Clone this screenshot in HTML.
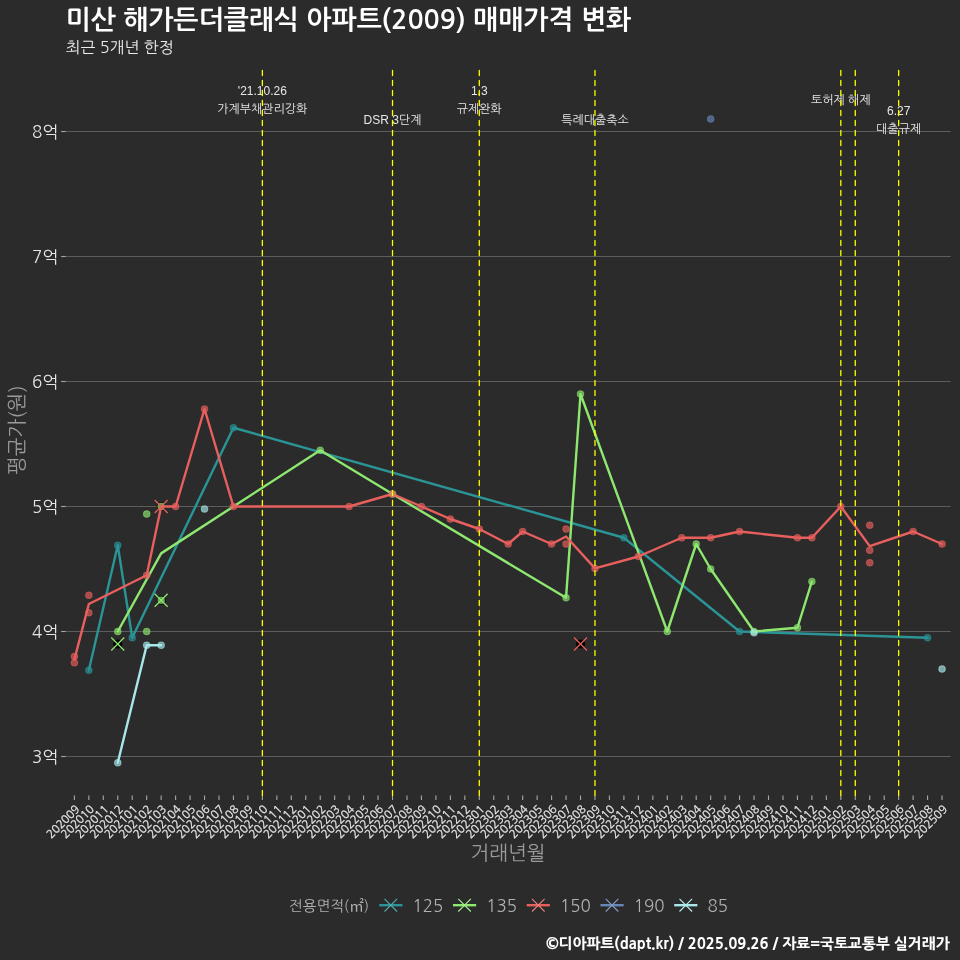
<!DOCTYPE html>
<html><head><meta charset="utf-8"><title>미산 해가든더클래식 아파트(2009) 매매가격 변화</title>
<style>
html,body{margin:0;padding:0;background:#2b2b2b;}
svg{display:block;will-change:transform;}
text{font-family:NanumGothic,'Noto Sans CJK KR',sans-serif;}
.ann{font-family:'Liberation Sans',NanumGothic,'Noto Sans CJK KR',sans-serif;font-size:12px;fill:#e6e6e6;text-anchor:middle;}
</style></head><body>
<svg width="960" height="960" viewBox="0 0 960 960">

<text x="65.6" y="28.6" font-size="26.7" font-weight="700" fill="#ffffff">미산 해가든더클래식 아파트(2009) 매매가격 변화</text>
<text x="66" y="53" font-size="15.8" fill="#ececec">최근 5개년 한정</text>
<line x1="65.7" y1="756.50" x2="950.7" y2="756.50" stroke="#5d5d5d" stroke-width="1.1"/>
<line x1="61.2" y1="756.50" x2="65.7" y2="756.50" stroke="#a8a8a8" stroke-width="1.1"/>
<text x="58.2" y="762.80" font-size="17" fill="#e6e6e6" text-anchor="end">3억</text>
<line x1="65.7" y1="631.50" x2="950.7" y2="631.50" stroke="#5d5d5d" stroke-width="1.1"/>
<line x1="61.2" y1="631.50" x2="65.7" y2="631.50" stroke="#a8a8a8" stroke-width="1.1"/>
<text x="58.2" y="637.80" font-size="17" fill="#e6e6e6" text-anchor="end">4억</text>
<line x1="65.7" y1="506.50" x2="950.7" y2="506.50" stroke="#5d5d5d" stroke-width="1.1"/>
<line x1="61.2" y1="506.50" x2="65.7" y2="506.50" stroke="#a8a8a8" stroke-width="1.1"/>
<text x="58.2" y="512.80" font-size="17" fill="#e6e6e6" text-anchor="end">5억</text>
<line x1="65.7" y1="381.50" x2="950.7" y2="381.50" stroke="#5d5d5d" stroke-width="1.1"/>
<line x1="61.2" y1="381.50" x2="65.7" y2="381.50" stroke="#a8a8a8" stroke-width="1.1"/>
<text x="58.2" y="387.80" font-size="17" fill="#e6e6e6" text-anchor="end">6억</text>
<line x1="65.7" y1="256.50" x2="950.7" y2="256.50" stroke="#5d5d5d" stroke-width="1.1"/>
<line x1="61.2" y1="256.50" x2="65.7" y2="256.50" stroke="#a8a8a8" stroke-width="1.1"/>
<text x="58.2" y="262.80" font-size="17" fill="#e6e6e6" text-anchor="end">7억</text>
<line x1="65.7" y1="131.50" x2="950.7" y2="131.50" stroke="#5d5d5d" stroke-width="1.1"/>
<line x1="61.2" y1="131.50" x2="65.7" y2="131.50" stroke="#a8a8a8" stroke-width="1.1"/>
<text x="58.2" y="137.80" font-size="17" fill="#e6e6e6" text-anchor="end">8억</text>
<line x1="74.38" y1="795.5" x2="74.38" y2="800" stroke="#a8a8a8" stroke-width="1.1"/>
<line x1="88.84" y1="795.5" x2="88.84" y2="800" stroke="#a8a8a8" stroke-width="1.1"/>
<line x1="103.30" y1="795.5" x2="103.30" y2="800" stroke="#a8a8a8" stroke-width="1.1"/>
<line x1="117.76" y1="795.5" x2="117.76" y2="800" stroke="#a8a8a8" stroke-width="1.1"/>
<line x1="132.22" y1="795.5" x2="132.22" y2="800" stroke="#a8a8a8" stroke-width="1.1"/>
<line x1="146.69" y1="795.5" x2="146.69" y2="800" stroke="#a8a8a8" stroke-width="1.1"/>
<line x1="161.15" y1="795.5" x2="161.15" y2="800" stroke="#a8a8a8" stroke-width="1.1"/>
<line x1="175.61" y1="795.5" x2="175.61" y2="800" stroke="#a8a8a8" stroke-width="1.1"/>
<line x1="190.07" y1="795.5" x2="190.07" y2="800" stroke="#a8a8a8" stroke-width="1.1"/>
<line x1="204.53" y1="795.5" x2="204.53" y2="800" stroke="#a8a8a8" stroke-width="1.1"/>
<line x1="218.99" y1="795.5" x2="218.99" y2="800" stroke="#a8a8a8" stroke-width="1.1"/>
<line x1="233.45" y1="795.5" x2="233.45" y2="800" stroke="#a8a8a8" stroke-width="1.1"/>
<line x1="247.91" y1="795.5" x2="247.91" y2="800" stroke="#a8a8a8" stroke-width="1.1"/>
<line x1="262.37" y1="795.5" x2="262.37" y2="800" stroke="#a8a8a8" stroke-width="1.1"/>
<line x1="276.83" y1="795.5" x2="276.83" y2="800" stroke="#a8a8a8" stroke-width="1.1"/>
<line x1="291.29" y1="795.5" x2="291.29" y2="800" stroke="#a8a8a8" stroke-width="1.1"/>
<line x1="305.76" y1="795.5" x2="305.76" y2="800" stroke="#a8a8a8" stroke-width="1.1"/>
<line x1="320.22" y1="795.5" x2="320.22" y2="800" stroke="#a8a8a8" stroke-width="1.1"/>
<line x1="334.68" y1="795.5" x2="334.68" y2="800" stroke="#a8a8a8" stroke-width="1.1"/>
<line x1="349.14" y1="795.5" x2="349.14" y2="800" stroke="#a8a8a8" stroke-width="1.1"/>
<line x1="363.60" y1="795.5" x2="363.60" y2="800" stroke="#a8a8a8" stroke-width="1.1"/>
<line x1="378.06" y1="795.5" x2="378.06" y2="800" stroke="#a8a8a8" stroke-width="1.1"/>
<line x1="392.52" y1="795.5" x2="392.52" y2="800" stroke="#a8a8a8" stroke-width="1.1"/>
<line x1="406.98" y1="795.5" x2="406.98" y2="800" stroke="#a8a8a8" stroke-width="1.1"/>
<line x1="421.44" y1="795.5" x2="421.44" y2="800" stroke="#a8a8a8" stroke-width="1.1"/>
<line x1="435.91" y1="795.5" x2="435.91" y2="800" stroke="#a8a8a8" stroke-width="1.1"/>
<line x1="450.37" y1="795.5" x2="450.37" y2="800" stroke="#a8a8a8" stroke-width="1.1"/>
<line x1="464.83" y1="795.5" x2="464.83" y2="800" stroke="#a8a8a8" stroke-width="1.1"/>
<line x1="479.29" y1="795.5" x2="479.29" y2="800" stroke="#a8a8a8" stroke-width="1.1"/>
<line x1="493.75" y1="795.5" x2="493.75" y2="800" stroke="#a8a8a8" stroke-width="1.1"/>
<line x1="508.21" y1="795.5" x2="508.21" y2="800" stroke="#a8a8a8" stroke-width="1.1"/>
<line x1="522.67" y1="795.5" x2="522.67" y2="800" stroke="#a8a8a8" stroke-width="1.1"/>
<line x1="537.13" y1="795.5" x2="537.13" y2="800" stroke="#a8a8a8" stroke-width="1.1"/>
<line x1="551.59" y1="795.5" x2="551.59" y2="800" stroke="#a8a8a8" stroke-width="1.1"/>
<line x1="566.05" y1="795.5" x2="566.05" y2="800" stroke="#a8a8a8" stroke-width="1.1"/>
<line x1="580.51" y1="795.5" x2="580.51" y2="800" stroke="#a8a8a8" stroke-width="1.1"/>
<line x1="594.98" y1="795.5" x2="594.98" y2="800" stroke="#a8a8a8" stroke-width="1.1"/>
<line x1="609.44" y1="795.5" x2="609.44" y2="800" stroke="#a8a8a8" stroke-width="1.1"/>
<line x1="623.90" y1="795.5" x2="623.90" y2="800" stroke="#a8a8a8" stroke-width="1.1"/>
<line x1="638.36" y1="795.5" x2="638.36" y2="800" stroke="#a8a8a8" stroke-width="1.1"/>
<line x1="652.82" y1="795.5" x2="652.82" y2="800" stroke="#a8a8a8" stroke-width="1.1"/>
<line x1="667.28" y1="795.5" x2="667.28" y2="800" stroke="#a8a8a8" stroke-width="1.1"/>
<line x1="681.74" y1="795.5" x2="681.74" y2="800" stroke="#a8a8a8" stroke-width="1.1"/>
<line x1="696.20" y1="795.5" x2="696.20" y2="800" stroke="#a8a8a8" stroke-width="1.1"/>
<line x1="710.66" y1="795.5" x2="710.66" y2="800" stroke="#a8a8a8" stroke-width="1.1"/>
<line x1="725.12" y1="795.5" x2="725.12" y2="800" stroke="#a8a8a8" stroke-width="1.1"/>
<line x1="739.59" y1="795.5" x2="739.59" y2="800" stroke="#a8a8a8" stroke-width="1.1"/>
<line x1="754.05" y1="795.5" x2="754.05" y2="800" stroke="#a8a8a8" stroke-width="1.1"/>
<line x1="768.51" y1="795.5" x2="768.51" y2="800" stroke="#a8a8a8" stroke-width="1.1"/>
<line x1="782.97" y1="795.5" x2="782.97" y2="800" stroke="#a8a8a8" stroke-width="1.1"/>
<line x1="797.43" y1="795.5" x2="797.43" y2="800" stroke="#a8a8a8" stroke-width="1.1"/>
<line x1="811.89" y1="795.5" x2="811.89" y2="800" stroke="#a8a8a8" stroke-width="1.1"/>
<line x1="826.35" y1="795.5" x2="826.35" y2="800" stroke="#a8a8a8" stroke-width="1.1"/>
<line x1="840.81" y1="795.5" x2="840.81" y2="800" stroke="#a8a8a8" stroke-width="1.1"/>
<line x1="855.27" y1="795.5" x2="855.27" y2="800" stroke="#a8a8a8" stroke-width="1.1"/>
<line x1="869.74" y1="795.5" x2="869.74" y2="800" stroke="#a8a8a8" stroke-width="1.1"/>
<line x1="884.20" y1="795.5" x2="884.20" y2="800" stroke="#a8a8a8" stroke-width="1.1"/>
<line x1="898.66" y1="795.5" x2="898.66" y2="800" stroke="#a8a8a8" stroke-width="1.1"/>
<line x1="913.12" y1="795.5" x2="913.12" y2="800" stroke="#a8a8a8" stroke-width="1.1"/>
<line x1="927.58" y1="795.5" x2="927.58" y2="800" stroke="#a8a8a8" stroke-width="1.1"/>
<line x1="942.04" y1="795.5" x2="942.04" y2="800" stroke="#a8a8a8" stroke-width="1.1"/>
<text transform="translate(80.38,810) rotate(-45)" font-size="11.3" fill="#e8e8e8" stroke="#e8e8e8" stroke-width="0.25" text-anchor="end">202009</text>
<text transform="translate(94.84,810) rotate(-45)" font-size="11.3" fill="#e8e8e8" stroke="#e8e8e8" stroke-width="0.25" text-anchor="end">202010</text>
<text transform="translate(109.30,810) rotate(-45)" font-size="11.3" fill="#e8e8e8" stroke="#e8e8e8" stroke-width="0.25" text-anchor="end">202011</text>
<text transform="translate(123.76,810) rotate(-45)" font-size="11.3" fill="#e8e8e8" stroke="#e8e8e8" stroke-width="0.25" text-anchor="end">202012</text>
<text transform="translate(138.22,810) rotate(-45)" font-size="11.3" fill="#e8e8e8" stroke="#e8e8e8" stroke-width="0.25" text-anchor="end">202101</text>
<text transform="translate(152.69,810) rotate(-45)" font-size="11.3" fill="#e8e8e8" stroke="#e8e8e8" stroke-width="0.25" text-anchor="end">202102</text>
<text transform="translate(167.15,810) rotate(-45)" font-size="11.3" fill="#e8e8e8" stroke="#e8e8e8" stroke-width="0.25" text-anchor="end">202103</text>
<text transform="translate(181.61,810) rotate(-45)" font-size="11.3" fill="#e8e8e8" stroke="#e8e8e8" stroke-width="0.25" text-anchor="end">202104</text>
<text transform="translate(196.07,810) rotate(-45)" font-size="11.3" fill="#e8e8e8" stroke="#e8e8e8" stroke-width="0.25" text-anchor="end">202105</text>
<text transform="translate(210.53,810) rotate(-45)" font-size="11.3" fill="#e8e8e8" stroke="#e8e8e8" stroke-width="0.25" text-anchor="end">202106</text>
<text transform="translate(224.99,810) rotate(-45)" font-size="11.3" fill="#e8e8e8" stroke="#e8e8e8" stroke-width="0.25" text-anchor="end">202107</text>
<text transform="translate(239.45,810) rotate(-45)" font-size="11.3" fill="#e8e8e8" stroke="#e8e8e8" stroke-width="0.25" text-anchor="end">202108</text>
<text transform="translate(253.91,810) rotate(-45)" font-size="11.3" fill="#e8e8e8" stroke="#e8e8e8" stroke-width="0.25" text-anchor="end">202109</text>
<text transform="translate(268.37,810) rotate(-45)" font-size="11.3" fill="#e8e8e8" stroke="#e8e8e8" stroke-width="0.25" text-anchor="end">202110</text>
<text transform="translate(282.83,810) rotate(-45)" font-size="11.3" fill="#e8e8e8" stroke="#e8e8e8" stroke-width="0.25" text-anchor="end">202111</text>
<text transform="translate(297.29,810) rotate(-45)" font-size="11.3" fill="#e8e8e8" stroke="#e8e8e8" stroke-width="0.25" text-anchor="end">202112</text>
<text transform="translate(311.76,810) rotate(-45)" font-size="11.3" fill="#e8e8e8" stroke="#e8e8e8" stroke-width="0.25" text-anchor="end">202201</text>
<text transform="translate(326.22,810) rotate(-45)" font-size="11.3" fill="#e8e8e8" stroke="#e8e8e8" stroke-width="0.25" text-anchor="end">202202</text>
<text transform="translate(340.68,810) rotate(-45)" font-size="11.3" fill="#e8e8e8" stroke="#e8e8e8" stroke-width="0.25" text-anchor="end">202203</text>
<text transform="translate(355.14,810) rotate(-45)" font-size="11.3" fill="#e8e8e8" stroke="#e8e8e8" stroke-width="0.25" text-anchor="end">202204</text>
<text transform="translate(369.60,810) rotate(-45)" font-size="11.3" fill="#e8e8e8" stroke="#e8e8e8" stroke-width="0.25" text-anchor="end">202205</text>
<text transform="translate(384.06,810) rotate(-45)" font-size="11.3" fill="#e8e8e8" stroke="#e8e8e8" stroke-width="0.25" text-anchor="end">202206</text>
<text transform="translate(398.52,810) rotate(-45)" font-size="11.3" fill="#e8e8e8" stroke="#e8e8e8" stroke-width="0.25" text-anchor="end">202207</text>
<text transform="translate(412.98,810) rotate(-45)" font-size="11.3" fill="#e8e8e8" stroke="#e8e8e8" stroke-width="0.25" text-anchor="end">202208</text>
<text transform="translate(427.44,810) rotate(-45)" font-size="11.3" fill="#e8e8e8" stroke="#e8e8e8" stroke-width="0.25" text-anchor="end">202209</text>
<text transform="translate(441.91,810) rotate(-45)" font-size="11.3" fill="#e8e8e8" stroke="#e8e8e8" stroke-width="0.25" text-anchor="end">202210</text>
<text transform="translate(456.37,810) rotate(-45)" font-size="11.3" fill="#e8e8e8" stroke="#e8e8e8" stroke-width="0.25" text-anchor="end">202211</text>
<text transform="translate(470.83,810) rotate(-45)" font-size="11.3" fill="#e8e8e8" stroke="#e8e8e8" stroke-width="0.25" text-anchor="end">202212</text>
<text transform="translate(485.29,810) rotate(-45)" font-size="11.3" fill="#e8e8e8" stroke="#e8e8e8" stroke-width="0.25" text-anchor="end">202301</text>
<text transform="translate(499.75,810) rotate(-45)" font-size="11.3" fill="#e8e8e8" stroke="#e8e8e8" stroke-width="0.25" text-anchor="end">202302</text>
<text transform="translate(514.21,810) rotate(-45)" font-size="11.3" fill="#e8e8e8" stroke="#e8e8e8" stroke-width="0.25" text-anchor="end">202303</text>
<text transform="translate(528.67,810) rotate(-45)" font-size="11.3" fill="#e8e8e8" stroke="#e8e8e8" stroke-width="0.25" text-anchor="end">202304</text>
<text transform="translate(543.13,810) rotate(-45)" font-size="11.3" fill="#e8e8e8" stroke="#e8e8e8" stroke-width="0.25" text-anchor="end">202305</text>
<text transform="translate(557.59,810) rotate(-45)" font-size="11.3" fill="#e8e8e8" stroke="#e8e8e8" stroke-width="0.25" text-anchor="end">202306</text>
<text transform="translate(572.05,810) rotate(-45)" font-size="11.3" fill="#e8e8e8" stroke="#e8e8e8" stroke-width="0.25" text-anchor="end">202307</text>
<text transform="translate(586.51,810) rotate(-45)" font-size="11.3" fill="#e8e8e8" stroke="#e8e8e8" stroke-width="0.25" text-anchor="end">202308</text>
<text transform="translate(600.98,810) rotate(-45)" font-size="11.3" fill="#e8e8e8" stroke="#e8e8e8" stroke-width="0.25" text-anchor="end">202309</text>
<text transform="translate(615.44,810) rotate(-45)" font-size="11.3" fill="#e8e8e8" stroke="#e8e8e8" stroke-width="0.25" text-anchor="end">202310</text>
<text transform="translate(629.90,810) rotate(-45)" font-size="11.3" fill="#e8e8e8" stroke="#e8e8e8" stroke-width="0.25" text-anchor="end">202311</text>
<text transform="translate(644.36,810) rotate(-45)" font-size="11.3" fill="#e8e8e8" stroke="#e8e8e8" stroke-width="0.25" text-anchor="end">202312</text>
<text transform="translate(658.82,810) rotate(-45)" font-size="11.3" fill="#e8e8e8" stroke="#e8e8e8" stroke-width="0.25" text-anchor="end">202401</text>
<text transform="translate(673.28,810) rotate(-45)" font-size="11.3" fill="#e8e8e8" stroke="#e8e8e8" stroke-width="0.25" text-anchor="end">202402</text>
<text transform="translate(687.74,810) rotate(-45)" font-size="11.3" fill="#e8e8e8" stroke="#e8e8e8" stroke-width="0.25" text-anchor="end">202403</text>
<text transform="translate(702.20,810) rotate(-45)" font-size="11.3" fill="#e8e8e8" stroke="#e8e8e8" stroke-width="0.25" text-anchor="end">202404</text>
<text transform="translate(716.66,810) rotate(-45)" font-size="11.3" fill="#e8e8e8" stroke="#e8e8e8" stroke-width="0.25" text-anchor="end">202405</text>
<text transform="translate(731.12,810) rotate(-45)" font-size="11.3" fill="#e8e8e8" stroke="#e8e8e8" stroke-width="0.25" text-anchor="end">202406</text>
<text transform="translate(745.59,810) rotate(-45)" font-size="11.3" fill="#e8e8e8" stroke="#e8e8e8" stroke-width="0.25" text-anchor="end">202407</text>
<text transform="translate(760.05,810) rotate(-45)" font-size="11.3" fill="#e8e8e8" stroke="#e8e8e8" stroke-width="0.25" text-anchor="end">202408</text>
<text transform="translate(774.51,810) rotate(-45)" font-size="11.3" fill="#e8e8e8" stroke="#e8e8e8" stroke-width="0.25" text-anchor="end">202409</text>
<text transform="translate(788.97,810) rotate(-45)" font-size="11.3" fill="#e8e8e8" stroke="#e8e8e8" stroke-width="0.25" text-anchor="end">202410</text>
<text transform="translate(803.43,810) rotate(-45)" font-size="11.3" fill="#e8e8e8" stroke="#e8e8e8" stroke-width="0.25" text-anchor="end">202411</text>
<text transform="translate(817.89,810) rotate(-45)" font-size="11.3" fill="#e8e8e8" stroke="#e8e8e8" stroke-width="0.25" text-anchor="end">202412</text>
<text transform="translate(832.35,810) rotate(-45)" font-size="11.3" fill="#e8e8e8" stroke="#e8e8e8" stroke-width="0.25" text-anchor="end">202501</text>
<text transform="translate(846.81,810) rotate(-45)" font-size="11.3" fill="#e8e8e8" stroke="#e8e8e8" stroke-width="0.25" text-anchor="end">202502</text>
<text transform="translate(861.27,810) rotate(-45)" font-size="11.3" fill="#e8e8e8" stroke="#e8e8e8" stroke-width="0.25" text-anchor="end">202503</text>
<text transform="translate(875.74,810) rotate(-45)" font-size="11.3" fill="#e8e8e8" stroke="#e8e8e8" stroke-width="0.25" text-anchor="end">202504</text>
<text transform="translate(890.20,810) rotate(-45)" font-size="11.3" fill="#e8e8e8" stroke="#e8e8e8" stroke-width="0.25" text-anchor="end">202505</text>
<text transform="translate(904.66,810) rotate(-45)" font-size="11.3" fill="#e8e8e8" stroke="#e8e8e8" stroke-width="0.25" text-anchor="end">202506</text>
<text transform="translate(919.12,810) rotate(-45)" font-size="11.3" fill="#e8e8e8" stroke="#e8e8e8" stroke-width="0.25" text-anchor="end">202507</text>
<text transform="translate(933.58,810) rotate(-45)" font-size="11.3" fill="#e8e8e8" stroke="#e8e8e8" stroke-width="0.25" text-anchor="end">202508</text>
<text transform="translate(948.04,810) rotate(-45)" font-size="11.3" fill="#e8e8e8" stroke="#e8e8e8" stroke-width="0.25" text-anchor="end">202509</text>
<circle cx="117.76" cy="644.00" r="4.6" fill="#000" fill-opacity="0.9"/>
<circle cx="161.15" cy="600.25" r="4.6" fill="#000" fill-opacity="0.9"/>
<circle cx="161.15" cy="600.25" r="3.2" fill="#8ee870" fill-opacity="0.65" stroke="#8ee870" stroke-opacity="0.6" stroke-width="1.1"/>
<circle cx="161.15" cy="506.50" r="4.6" fill="#000" fill-opacity="0.9"/>
<circle cx="161.15" cy="506.50" r="3.2" fill="#8ee870" fill-opacity="0.65" stroke="#8ee870" stroke-opacity="0.6" stroke-width="1.1"/>
<circle cx="580.51" cy="644.00" r="4.6" fill="#000" fill-opacity="0.9"/>
<polyline points="88.84,670.25 117.76,545.25 132.22,637.75 233.45,427.75 623.90,537.75 739.59,631.50 927.58,637.75" fill="none" stroke="#2a9497" stroke-width="2.4" stroke-linejoin="round" stroke-linecap="round"/>
<polyline points="117.76,631.50 161.15,553.38 320.22,450.25 392.52,494.00 566.05,597.75 580.51,394.00 667.28,631.50 696.20,544.00 710.66,569.00 754.05,631.50 797.43,627.75 811.89,581.50" fill="none" stroke="#8ee870" stroke-width="2.4" stroke-linejoin="round" stroke-linecap="round"/>
<polyline points="74.38,659.62 88.84,604.00 146.69,575.25 161.15,506.50 175.61,506.50 204.53,409.00 233.45,506.50 349.14,506.50 392.52,494.00 421.44,506.50 450.37,519.00 479.29,529.00 508.21,544.00 522.67,531.50 551.59,544.00 566.05,536.50 594.98,568.38 638.36,556.50 681.74,537.75 710.66,537.75 739.59,531.50 797.43,537.75 811.89,537.75 840.81,506.50 869.74,546.12 913.12,531.50 942.04,544.00" fill="none" stroke="#e8605e" stroke-width="2.4" stroke-linejoin="round" stroke-linecap="round"/>
<polyline points="117.76,762.75 146.69,645.25 161.15,645.25" fill="none" stroke="#a8e8ea" stroke-width="2.4" stroke-linejoin="round" stroke-linecap="round"/>
<circle cx="88.84" cy="670.25" r="3.2" fill="#2a9497" fill-opacity="0.65" stroke="#2a9497" stroke-opacity="0.6" stroke-width="1.1"/>
<circle cx="117.76" cy="545.25" r="3.2" fill="#2a9497" fill-opacity="0.65" stroke="#2a9497" stroke-opacity="0.6" stroke-width="1.1"/>
<circle cx="132.22" cy="637.75" r="3.2" fill="#2a9497" fill-opacity="0.65" stroke="#2a9497" stroke-opacity="0.6" stroke-width="1.1"/>
<circle cx="233.45" cy="427.75" r="3.2" fill="#2a9497" fill-opacity="0.65" stroke="#2a9497" stroke-opacity="0.6" stroke-width="1.1"/>
<circle cx="623.90" cy="537.75" r="3.2" fill="#2a9497" fill-opacity="0.65" stroke="#2a9497" stroke-opacity="0.6" stroke-width="1.1"/>
<circle cx="739.59" cy="631.50" r="3.2" fill="#2a9497" fill-opacity="0.65" stroke="#2a9497" stroke-opacity="0.6" stroke-width="1.1"/>
<circle cx="927.58" cy="637.75" r="3.2" fill="#2a9497" fill-opacity="0.65" stroke="#2a9497" stroke-opacity="0.6" stroke-width="1.1"/>
<circle cx="117.76" cy="631.50" r="3.2" fill="#8ee870" fill-opacity="0.65" stroke="#8ee870" stroke-opacity="0.6" stroke-width="1.1"/>
<circle cx="146.69" cy="514.00" r="3.2" fill="#8ee870" fill-opacity="0.65" stroke="#8ee870" stroke-opacity="0.6" stroke-width="1.1"/>
<circle cx="146.69" cy="631.50" r="3.2" fill="#8ee870" fill-opacity="0.65" stroke="#8ee870" stroke-opacity="0.6" stroke-width="1.1"/>
<circle cx="320.22" cy="450.25" r="3.2" fill="#8ee870" fill-opacity="0.65" stroke="#8ee870" stroke-opacity="0.6" stroke-width="1.1"/>
<circle cx="392.52" cy="494.00" r="3.2" fill="#8ee870" fill-opacity="0.65" stroke="#8ee870" stroke-opacity="0.6" stroke-width="1.1"/>
<circle cx="566.05" cy="597.75" r="3.2" fill="#8ee870" fill-opacity="0.65" stroke="#8ee870" stroke-opacity="0.6" stroke-width="1.1"/>
<circle cx="580.51" cy="394.00" r="3.2" fill="#8ee870" fill-opacity="0.65" stroke="#8ee870" stroke-opacity="0.6" stroke-width="1.1"/>
<circle cx="667.28" cy="631.50" r="3.2" fill="#8ee870" fill-opacity="0.65" stroke="#8ee870" stroke-opacity="0.6" stroke-width="1.1"/>
<circle cx="696.20" cy="544.00" r="3.2" fill="#8ee870" fill-opacity="0.65" stroke="#8ee870" stroke-opacity="0.6" stroke-width="1.1"/>
<circle cx="710.66" cy="569.00" r="3.2" fill="#8ee870" fill-opacity="0.65" stroke="#8ee870" stroke-opacity="0.6" stroke-width="1.1"/>
<circle cx="754.05" cy="631.50" r="3.2" fill="#8ee870" fill-opacity="0.65" stroke="#8ee870" stroke-opacity="0.6" stroke-width="1.1"/>
<circle cx="797.43" cy="627.75" r="3.2" fill="#8ee870" fill-opacity="0.65" stroke="#8ee870" stroke-opacity="0.6" stroke-width="1.1"/>
<circle cx="811.89" cy="581.50" r="3.2" fill="#8ee870" fill-opacity="0.65" stroke="#8ee870" stroke-opacity="0.6" stroke-width="1.1"/>
<circle cx="74.38" cy="656.50" r="3.2" fill="#e8605e" fill-opacity="0.65" stroke="#e8605e" stroke-opacity="0.6" stroke-width="1.1"/>
<circle cx="74.38" cy="662.75" r="3.2" fill="#e8605e" fill-opacity="0.65" stroke="#e8605e" stroke-opacity="0.6" stroke-width="1.1"/>
<circle cx="88.84" cy="595.25" r="3.2" fill="#e8605e" fill-opacity="0.65" stroke="#e8605e" stroke-opacity="0.6" stroke-width="1.1"/>
<circle cx="88.84" cy="612.75" r="3.2" fill="#e8605e" fill-opacity="0.65" stroke="#e8605e" stroke-opacity="0.6" stroke-width="1.1"/>
<circle cx="146.69" cy="575.25" r="3.2" fill="#e8605e" fill-opacity="0.65" stroke="#e8605e" stroke-opacity="0.6" stroke-width="1.1"/>
<circle cx="175.61" cy="506.50" r="3.2" fill="#e8605e" fill-opacity="0.65" stroke="#e8605e" stroke-opacity="0.6" stroke-width="1.1"/>
<circle cx="204.53" cy="409.00" r="3.2" fill="#e8605e" fill-opacity="0.65" stroke="#e8605e" stroke-opacity="0.6" stroke-width="1.1"/>
<circle cx="233.45" cy="506.50" r="3.2" fill="#e8605e" fill-opacity="0.65" stroke="#e8605e" stroke-opacity="0.6" stroke-width="1.1"/>
<circle cx="349.14" cy="506.50" r="3.2" fill="#e8605e" fill-opacity="0.65" stroke="#e8605e" stroke-opacity="0.6" stroke-width="1.1"/>
<circle cx="392.52" cy="494.00" r="3.2" fill="#e8605e" fill-opacity="0.65" stroke="#e8605e" stroke-opacity="0.6" stroke-width="1.1"/>
<circle cx="421.44" cy="506.50" r="3.2" fill="#e8605e" fill-opacity="0.65" stroke="#e8605e" stroke-opacity="0.6" stroke-width="1.1"/>
<circle cx="450.37" cy="519.00" r="3.2" fill="#e8605e" fill-opacity="0.65" stroke="#e8605e" stroke-opacity="0.6" stroke-width="1.1"/>
<circle cx="479.29" cy="529.00" r="3.2" fill="#e8605e" fill-opacity="0.65" stroke="#e8605e" stroke-opacity="0.6" stroke-width="1.1"/>
<circle cx="508.21" cy="544.00" r="3.2" fill="#e8605e" fill-opacity="0.65" stroke="#e8605e" stroke-opacity="0.6" stroke-width="1.1"/>
<circle cx="522.67" cy="531.50" r="3.2" fill="#e8605e" fill-opacity="0.65" stroke="#e8605e" stroke-opacity="0.6" stroke-width="1.1"/>
<circle cx="551.59" cy="544.00" r="3.2" fill="#e8605e" fill-opacity="0.65" stroke="#e8605e" stroke-opacity="0.6" stroke-width="1.1"/>
<circle cx="566.05" cy="529.00" r="3.2" fill="#e8605e" fill-opacity="0.65" stroke="#e8605e" stroke-opacity="0.6" stroke-width="1.1"/>
<circle cx="566.05" cy="544.00" r="3.2" fill="#e8605e" fill-opacity="0.65" stroke="#e8605e" stroke-opacity="0.6" stroke-width="1.1"/>
<circle cx="594.98" cy="568.38" r="3.2" fill="#e8605e" fill-opacity="0.65" stroke="#e8605e" stroke-opacity="0.6" stroke-width="1.1"/>
<circle cx="638.36" cy="556.50" r="3.2" fill="#e8605e" fill-opacity="0.65" stroke="#e8605e" stroke-opacity="0.6" stroke-width="1.1"/>
<circle cx="681.74" cy="537.75" r="3.2" fill="#e8605e" fill-opacity="0.65" stroke="#e8605e" stroke-opacity="0.6" stroke-width="1.1"/>
<circle cx="710.66" cy="537.75" r="3.2" fill="#e8605e" fill-opacity="0.65" stroke="#e8605e" stroke-opacity="0.6" stroke-width="1.1"/>
<circle cx="739.59" cy="531.50" r="3.2" fill="#e8605e" fill-opacity="0.65" stroke="#e8605e" stroke-opacity="0.6" stroke-width="1.1"/>
<circle cx="797.43" cy="537.75" r="3.2" fill="#e8605e" fill-opacity="0.65" stroke="#e8605e" stroke-opacity="0.6" stroke-width="1.1"/>
<circle cx="811.89" cy="537.75" r="3.2" fill="#e8605e" fill-opacity="0.65" stroke="#e8605e" stroke-opacity="0.6" stroke-width="1.1"/>
<circle cx="840.81" cy="506.50" r="3.2" fill="#e8605e" fill-opacity="0.65" stroke="#e8605e" stroke-opacity="0.6" stroke-width="1.1"/>
<circle cx="869.74" cy="525.25" r="3.2" fill="#e8605e" fill-opacity="0.65" stroke="#e8605e" stroke-opacity="0.6" stroke-width="1.1"/>
<circle cx="869.74" cy="550.25" r="3.2" fill="#e8605e" fill-opacity="0.65" stroke="#e8605e" stroke-opacity="0.6" stroke-width="1.1"/>
<circle cx="869.74" cy="562.75" r="3.2" fill="#e8605e" fill-opacity="0.65" stroke="#e8605e" stroke-opacity="0.6" stroke-width="1.1"/>
<circle cx="913.12" cy="531.50" r="3.2" fill="#e8605e" fill-opacity="0.65" stroke="#e8605e" stroke-opacity="0.6" stroke-width="1.1"/>
<circle cx="942.04" cy="544.00" r="3.2" fill="#e8605e" fill-opacity="0.65" stroke="#e8605e" stroke-opacity="0.6" stroke-width="1.1"/>
<circle cx="117.76" cy="762.75" r="3.2" fill="#a8e8ea" fill-opacity="0.65" stroke="#a8e8ea" stroke-opacity="0.6" stroke-width="1.1"/>
<circle cx="146.69" cy="645.25" r="3.2" fill="#a8e8ea" fill-opacity="0.65" stroke="#a8e8ea" stroke-opacity="0.6" stroke-width="1.1"/>
<circle cx="161.15" cy="645.25" r="3.2" fill="#a8e8ea" fill-opacity="0.65" stroke="#a8e8ea" stroke-opacity="0.6" stroke-width="1.1"/>
<circle cx="204.53" cy="509.00" r="3.2" fill="#a8e8ea" fill-opacity="0.65" stroke="#a8e8ea" stroke-opacity="0.6" stroke-width="1.1"/>
<circle cx="754.05" cy="632.75" r="3.2" fill="#a8e8ea" fill-opacity="0.65" stroke="#a8e8ea" stroke-opacity="0.6" stroke-width="1.1"/>
<circle cx="942.04" cy="669.00" r="3.2" fill="#a8e8ea" fill-opacity="0.65" stroke="#a8e8ea" stroke-opacity="0.6" stroke-width="1.1"/>
<circle cx="710.66" cy="119.00" r="3.2" fill="#6686b6" fill-opacity="0.65" stroke="#6686b6" stroke-opacity="0.6" stroke-width="1.1"/>
<path d="M111.26,637.50L124.26,650.50M111.26,650.50L124.26,637.50" stroke="#8ee870" stroke-width="1.2" fill="none"/>
<path d="M154.65,593.75L167.65,606.75M154.65,606.75L167.65,593.75" stroke="#8ee870" stroke-width="1.2" fill="none"/>
<path d="M154.65,500.00L167.65,513.00M154.65,513.00L167.65,500.00" stroke="#e8605e" stroke-width="1.2" fill="none"/>
<path d="M574.01,637.50L587.01,650.50M574.01,650.50L587.01,637.50" stroke="#e8605e" stroke-width="1.2" fill="none"/>
<text class="ann" x="262.37" y="95.05">'21.10.26</text>
<text class="ann" x="262.37" y="112.75">가계부채관리강화</text>
<text class="ann" x="392.52" y="124.00">DSR 3단계</text>
<text class="ann" x="479.29" y="95.05">1.3</text>
<text class="ann" x="479.29" y="112.75">규제완화</text>
<text class="ann" x="594.98" y="124.10">특례대출축소</text>
<text class="ann" x="840.81" y="103.50">토허제 해제</text>
<text class="ann" x="898.66" y="115.45">6.27</text>
<text class="ann" x="898.66" y="133.15">대출규제</text>
<line x1="262.37" y1="795.5" x2="262.37" y2="70.0" stroke="#ffff00" stroke-width="1.3" stroke-dasharray="5 5" stroke-linecap="round"/>
<line x1="392.52" y1="795.5" x2="392.52" y2="70.0" stroke="#ffff00" stroke-width="1.3" stroke-dasharray="5 5" stroke-linecap="round"/>
<line x1="479.29" y1="795.5" x2="479.29" y2="70.0" stroke="#ffff00" stroke-width="1.3" stroke-dasharray="5 5" stroke-linecap="round"/>
<line x1="594.98" y1="795.5" x2="594.98" y2="70.0" stroke="#ffff00" stroke-width="1.3" stroke-dasharray="5 5" stroke-linecap="round"/>
<line x1="840.81" y1="795.5" x2="840.81" y2="70.0" stroke="#ffff00" stroke-width="1.3" stroke-dasharray="5 5" stroke-linecap="round"/>
<line x1="855.27" y1="795.5" x2="855.27" y2="70.0" stroke="#ffff00" stroke-width="1.3" stroke-dasharray="5 5" stroke-linecap="round"/>
<line x1="898.66" y1="795.5" x2="898.66" y2="70.0" stroke="#ffff00" stroke-width="1.3" stroke-dasharray="5 5" stroke-linecap="round"/>
<text x="508" y="860" font-size="20" fill="#9a9a9a" text-anchor="middle">거래년월</text>
<text transform="translate(24.2,430.2) rotate(-90)" font-size="20" fill="#9a9a9a" text-anchor="middle">평균가(원)</text>
<text x="289" y="911" font-size="14.6" fill="#b0b0b0">전용면적(㎡)</text>
<line x1="379.20" y1="905.2" x2="402.40" y2="905.2" stroke="#2a9497" stroke-width="2.4"/>
<path d="M384.50,898.90L397.10,911.50M384.50,911.50L397.10,898.90" stroke="#55a9ac" stroke-width="1.1" fill="none"/>
<text x="412.40" y="912.3" font-size="17" fill="#b0b0b0">125</text>
<line x1="452.95" y1="905.2" x2="476.15" y2="905.2" stroke="#8ee870" stroke-width="2.4"/>
<path d="M458.25,898.90L470.85,911.50M458.25,911.50L470.85,898.90" stroke="#a5ed8d" stroke-width="1.1" fill="none"/>
<text x="486.15" y="912.3" font-size="17" fill="#b0b0b0">135</text>
<line x1="526.70" y1="905.2" x2="549.90" y2="905.2" stroke="#e8605e" stroke-width="2.4"/>
<path d="M532.00,898.90L544.60,911.50M532.00,911.50L544.60,898.90" stroke="#ed807e" stroke-width="1.1" fill="none"/>
<text x="559.90" y="912.3" font-size="17" fill="#b0b0b0">150</text>
<line x1="600.45" y1="905.2" x2="623.65" y2="905.2" stroke="#6686b6" stroke-width="2.4"/>
<path d="M605.75,898.90L618.35,911.50M605.75,911.50L618.35,898.90" stroke="#859ec5" stroke-width="1.1" fill="none"/>
<text x="633.65" y="912.3" font-size="17" fill="#b0b0b0">190</text>
<line x1="674.20" y1="905.2" x2="697.40" y2="905.2" stroke="#a8e8ea" stroke-width="2.4"/>
<path d="M679.50,898.90L692.10,911.50M679.50,911.50L692.10,898.90" stroke="#b9edee" stroke-width="1.1" fill="none"/>
<text x="707.40" y="912.3" font-size="17" fill="#b0b0b0">85</text>
<text x="949.6" y="949.3" font-size="14.8" font-weight="800" fill="#ffffff" text-anchor="end">©디아파트(dapt.kr) / 2025.09.26 / 자료=국토교통부 실거래가</text>
</svg></body></html>
